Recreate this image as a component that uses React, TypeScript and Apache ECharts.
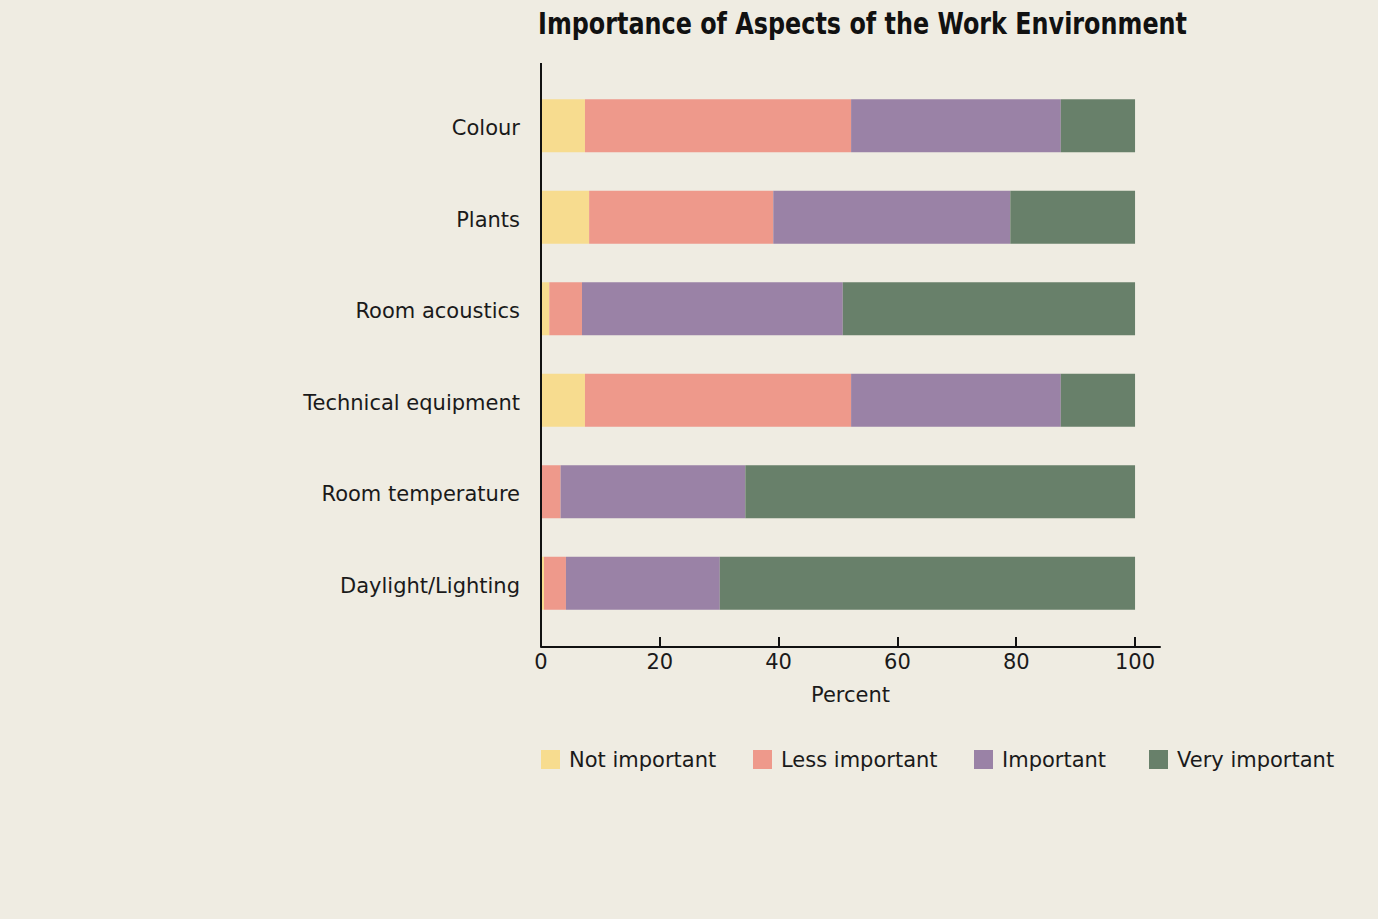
import React, { useEffect, useRef } from "react";
import * as echarts from "echarts";

const categories = [
  "Colour",
  "Plants",
  "Room acoustics",
  "Technical equipment",
  "Room temperature",
  "Daylight/Lighting",
];
const notImportant = [7.4, 8.1, 1.4, 7.4, 0, 0.5];
const lessImportant = [44.8, 31.0, 5.5, 44.8, 3.3, 3.7];
const important = [35.3, 39.9, 43.9, 35.3, 31.1, 25.9];
const veryImportant = [12.5, 21.0, 49.2, 12.5, 65.6, 69.9];
const xTicks = [0, 20, 40, 60, 80, 100];

const seriesNames = ["Not important", "Less important", "Important", "Very important"];
const seriesColors = ["#F7DC8F", "#EE998B", "#9A82A6", "#68806A"];
const seriesData = [notImportant, lessImportant, important, veryImportant];

const FONT = "'DejaVu Sans', 'Noto Sans', sans-serif";
const TITLE = "Importance of Aspects of the Work Environment";

export default function App() {
  const ref = useRef<HTMLDivElement>(null);
  useEffect(() => {
    if (!ref.current) return;
    const chart = echarts.init(ref.current, undefined, { renderer: "svg" });
    const legendLefts = [541, 753, 974, 1149];
    chart.setOption({
      animation: false,
      backgroundColor: "#EFECE2",
      legend: seriesNames.map((n, i) => ({
        data: [n],
        left: legendLefts[i],
        top: 749,
        padding: 0,
        icon: "rect",
        itemWidth: 19,
        itemHeight: 19,
        selectedMode: false,
        textStyle: {
          fontFamily: FONT,
          fontSize: 21,
          color: "#1a1a1a",
          padding: [0, 0, 0, 4],
        },
      })),
      grid: { left: 541, right: 218, top: 80, height: 549 },
      xAxis: {
        type: "value",
        min: 0,
        max: 104.2,
        offset: 18,
        name: "Percent",
        nameLocation: "middle",
        nameGap: 37,
        nameTextStyle: { fontFamily: FONT, fontSize: 21, color: "#1a1a1a" },
        axisLine: { show: true, lineStyle: { color: "#111111", width: 2 } },
        axisTick: {
          show: true,
          inside: true,
          length: 10,
          customValues: xTicks,
          lineStyle: { color: "#111111", width: 2 },
        },
        axisLabel: {
          customValues: xTicks,
          margin: 4,
          fontFamily: FONT,
          fontSize: 21,
          color: "#1a1a1a",
        },
        splitLine: { show: false },
      },
      yAxis: {
        type: "category",
        data: categories,
        inverse: true,
        axisLine: { show: false },
        axisTick: { show: false },
        axisLabel: {
          margin: 21,
          formatter: "{v|{value}}",
          rich: {
            v: {
              padding: [5, 0, 0, 0],
              fontFamily: FONT,
              fontSize: 21,
              color: "#1a1a1a",
            },
          },
        },
      },
      graphic: [
        {
          type: "text",
          x: 538,
          y: 8,
          scaleX: 0.796,
          style: {
            text: TITLE,
            fontFamily: FONT,
            fontWeight: "bold",
            fontSize: 30,
            fill: "#111111",
            textAlign: "left",
            textVerticalAlign: "top",
          },
        },
        {
          type: "line",
          shape: { x1: 541, y1: 63, x2: 541, y2: 647 },
          style: { stroke: "#111111", lineWidth: 2 },
          z: 10,
        },
      ],
      series: seriesNames.map((n, i) => ({
        name: n,
        type: "bar",
        stack: "total",
        barWidth: 53,
        data: seriesData[i],
        itemStyle: { color: seriesColors[i] },
        emphasis: { disabled: true },
      })),
    });
    return () => chart.dispose();
  }, []);
  return (
    <div
      ref={ref}
      style={{ position: "fixed", left: 0, top: 0, width: 1378, height: 919 }}
    />
  );
}
